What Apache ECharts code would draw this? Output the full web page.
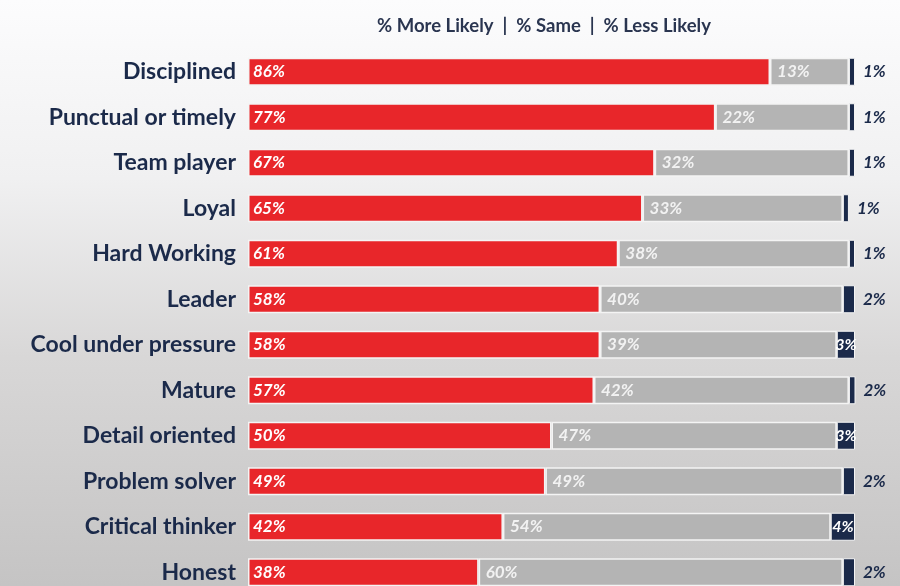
<!DOCTYPE html>
<html>
<head>
<meta charset="utf-8">
<script src="https://cdn.jsdelivr.net/npm/echarts@6/dist/echarts.min.js"></script>
<style>
  html, body { margin: 0; padding: 0; overflow: hidden; }
  /* a bit taller than the window: the last row is cut by the bottom edge */
  #chart { width: 900px; height: 596px; }
</style>
</head>
<body>
<div id="chart"></div>
<script>
// categories, top to bottom
const categories = ['Disciplined', 'Punctual or timely', 'Team player', 'Loyal', 'Hard Working', 'Leader',
  'Cool under pressure', 'Mature', 'Detail oriented', 'Problem solver', 'Critical thinker', 'Honest']
const moreLikely = [86, 77, 67, 65, 61, 58, 58, 57, 50, 49, 42, 38]
const same = [13, 22, 32, 33, 38, 40, 39, 42, 47, 49, 54, 60]
const lessLikely = [1, 1, 1, 1, 1, 2, 3, 2, 3, 2, 4, 2]

const navy = '#1b2a4a'
const labelFont = { fontFamily: 'Lato', fontWeight: 'bold', fontStyle: 'italic', fontSize: 17 }

let myChart = echarts.init(document.getElementById('chart'))

// small values don't fit inside the bar, put them outside on the right
const lessData = lessLikely.map(v => v >= 3
  ? { value: v, label: { position: 'inside', color: '#fff', fontSize: 16 } }
  : { value: v, label: { position: 'right', distance: 8, color: navy } })

const option = {
  backgroundColor: {
    type: 'linear', x: 0, y: 0, x2: 0, y2: 1,
    colorStops: [
      { offset: 0, color: '#fcfcfd' },
      { offset: 0.3, color: '#f0f0f1' },
      { offset: 0.6, color: '#d8d7d7' },
      { offset: 1, color: '#c4c3c3' }
    ]
  },
  title: {
    text: '% More Likely  |  % Same  |  % Less Likely',
    left: 539, top: 12, textAlign: 'center',
    textStyle: { fontFamily: 'Lato', fontWeight: 'bold', fontSize: 18.5, color: '#2a3550' }
  },
  grid: { left: 248, right: 45, top: 49, bottom: 1 },
  xAxis: { type: 'value', min: 0, max: 100, show: false },
  yAxis: {
    type: 'category', data: categories, inverse: true,
    axisLine: { show: false }, axisTick: { show: false },
    axisLabel: { margin: 12, fontFamily: 'Lato', fontWeight: 'bold', fontSize: 23, color: navy }
  },
  series: [
    {
      name: 'More Likely', type: 'bar', stack: 'all', barWidth: 28, data: moreLikely,
      itemStyle: { color: '#e8262a', borderColor: '#f4f4f4', borderWidth: 1.5 },
      label: { show: true, position: 'insideLeft', distance: 5, formatter: '{c}%', color: '#fff', ...labelFont }
    },
    {
      name: 'Same', type: 'bar', stack: 'all', barWidth: 28, data: same,
      itemStyle: { color: '#b4b4b4', borderColor: '#f4f4f4', borderWidth: 1.5 },
      label: { show: true, position: 'insideLeft', distance: 7, formatter: '{c}%', color: '#f2f2f2', ...labelFont }
    },
    {
      name: 'Less Likely', type: 'bar', stack: 'all', barWidth: 28, data: lessData,
      itemStyle: { color: navy, borderColor: '#f4f4f4', borderWidth: 1 },
      label: { show: true, formatter: '{c}%', ...labelFont }
    }
  ]
}
myChart.setOption(option)
</script>
</body>
</html>
